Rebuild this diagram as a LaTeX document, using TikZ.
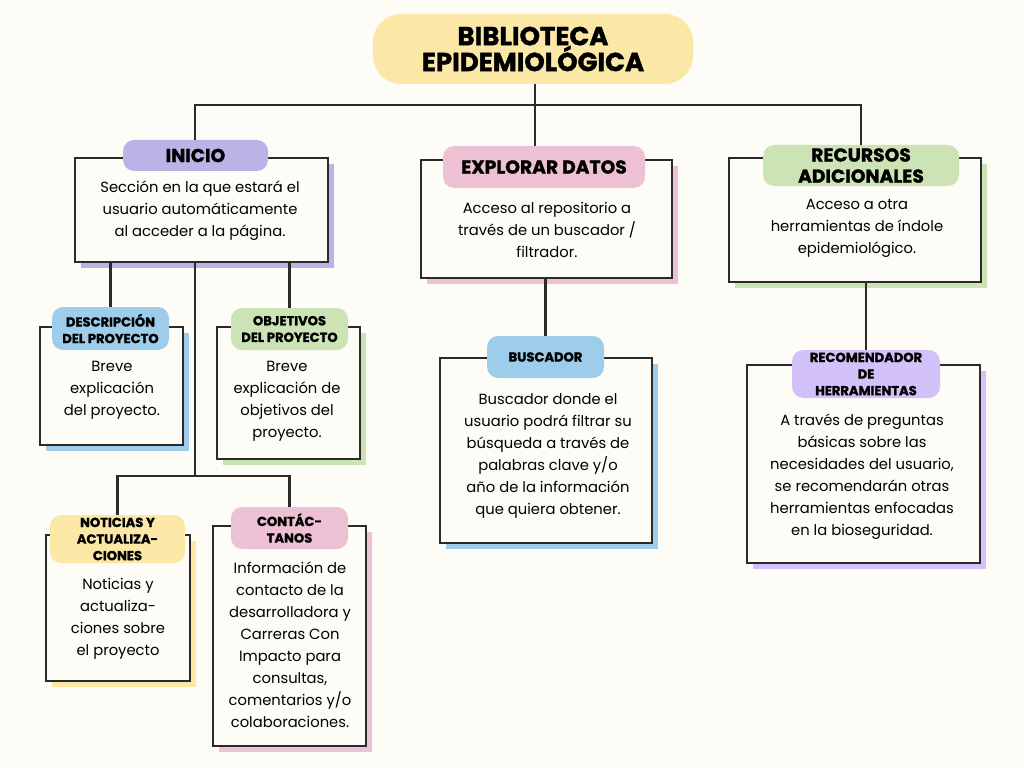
\documentclass[tikz,border=0pt]{standalone}
\usepackage{fontspec}
\setmainfont{Poppins}
\newfontfamily\headfont{Poppins}[BoldFeatures={FakeBold=1.4}]
\usepackage{tikz}
\usetikzlibrary{
    positioning,
    shadows,
    calc
}
\definecolor{paper}{HTML}{FDFCF7}
\definecolor{ink}{HTML}{2A2A2A}
\definecolor{lemon}{HTML}{FBE8A6}
\definecolor{lilac}{HTML}{B9B3E6}
\definecolor{rose}{HTML}{EDC1D3}
\definecolor{sage}{HTML}{CCE3B5}
\definecolor{sky}{HTML}{9DCDEA}
\definecolor{mauve}{HTML}{D3C2FA}
\newcommand{\bodyfont}{\fontsize{10.5}{15.6}\selectfont}
\newcommand{\bigtabfont}{\headfont\fontsize{13.3}{15}\selectfont\bfseries}
\newcommand{\smalltabfont}{\headfont\fontsize{9.3}{11.8}\selectfont\bfseries}
\newcommand{\titlefont}{\headfont\fontsize{18.5}{18.4}\selectfont\bfseries}
\tikzset{
    wh/.style 2 args={minimum width=#1*0.025cm, minimum height=#2*0.025cm},
    card/.style={draw=ink, line width=1.7pt, fill=paper, inner sep=0pt,
        general shadow={fill=#1, shadow xshift=0.15cm, shadow yshift=-0.15cm}},
    tab/.style={fill=#1, rounded corners=8pt, inner sep=0pt, align=center},
    body/.style={align=center, font=\bodyfont, inner sep=0pt},
    wire/.style={draw=ink, line width=2pt}
}

\begin{document}
\begin{tikzpicture}[x=0.025cm, y=-0.025cm]
    \fill[paper] (0,0) rectangle (1024,768);

    \node[tab=lemon, wh={320}{70}, rounded corners=20pt, font=\titlefont] (title) at (533,49) {BIBLIOTECA\\EPIDEMIOLÓGICA};

    \node[card=lilac, wh={253}{104}] (inicio) at (201.5,210) {};
    \node[body] (iniciotxt) at (200,211) {Sección en la que estará el\\usuario automáticamente\\al acceder a la página.};
    \node[tab=lilac, wh={145}{31}, font=\bigtabfont] (iniciolbl) at (195.5,155.5) {INICIO};

    \node[card=sky, wh={143}{118}] (desc) at (111.5,386) {};
    \node[body] (desctxt) at (112,390) {Breve\\explicación\\del proyecto.};
    \node[tab=sky, wh={117}{43}, font=\smalltabfont] (desclbl) at (110.5,328.5) {DESCRIPCIÓN\\DEL PROYECTO};

    \node[card=sage, wh={143}{132}] (obj) at (288.5,393) {};
    \node[body] (objtxt) at (287,401) {Breve\\explicación de\\objetivos del\\proyecto.};
    \node[tab=sage, wh={117}{42}, font=\smalltabfont] (objlbl) at (289.5,329) {OBJETIVOS\\DEL PROYECTO};

    \node[card=lemon, wh={144}{146}] (noticias) at (118,608) {};
    \node[body] (noticiastxt) at (118,619) {Noticias y\\actualiza-\\ciones sobre\\el proyecto};
    \node[tab=lemon, wh={135}{48}, font=\smalltabfont] (noticiaslbl) at (117.5,539) {NOTICIAS Y\\ACTUALIZA-\\CIONES};

    \node[card=rose, wh={153}{220}] (contacto) at (289.5,636) {};
    \node[body] (contactotxt) at (290,645) {Información de\\contacto de la\\desarrolladora y\\Carreras Con\\Impacto para\\consultas,\\comentarios y/o\\colaboraciones.};
    \node[tab=rose, wh={117}{42}, font=\smalltabfont] (contactolbl) at (289.5,528) {CONTÁC-\\TANOS};

    \node[card=rose, wh={251}{118}] (explorar) at (546.5,219) {};
    \node[body] (explorartxt) at (547,230) {Acceso al repositorio a\\través de un buscador /\\filtrador.};
    \node[tab=rose, wh={202}{42}, font=\bigtabfont] (explorarlbl) at (544,167) {EXPLORAR DATOS};

    \node[card=sky, wh={212}{185}] (buscador) at (546,450.5) {};
    \node[body] (buscadortxt) at (548,456) {Buscador donde el\\usuario podrá filtrar su\\búsqueda a través de\\palabras clave y/o\\año de la información\\que quiera obtener.};
    \node[tab=sky, wh={117}{42}, font=\smalltabfont] (buscadorlbl) at (545.5,357) {BUSCADOR};

    \node[card=sage, wh={252}{124}] (recursos) at (855,220) {};
    \node[body] (recursostxt) at (857,228) {Acceso a otra\\herramientas de índole\\epidemiológico.};
    \node[tab=sage, wh={196}{41}, font=\bigtabfont] (recursoslbl) at (861,165.5) {RECURSOS\\ADICIONALES};

    \node[card=mauve, wh={233}{198}] (recomienda) at (863.5,464) {};
    \node[body] (recomiendatxt) at (862,477) {A través de preguntas\\básicas sobre las\\necesidades del usuario,\\se recomendarán otras\\herramientas enfocadas\\en la bioseguridad.};
    \node[tab=mauve, wh={148}{48}, font=\smalltabfont] (recomiendalbl) at (866,374) {RECOMENDADOR\\DE\\HERRAMIENTAS};

    \coordinate (bar) at (535,105);
    \coordinate (kidbar) at (195,476);

    \draw[wire] (title.south -| bar) -- (explorarlbl.north -| bar);
    \draw[wire] (iniciolbl.north -| kidbar) |- (bar) -| (recursoslbl.north);
    \draw[wire] (inicio.south -| desclbl.north) -- (desclbl.north);
    \draw[wire] (inicio.south -| objlbl.north) -- (objlbl.north);
    \draw[wire] (inicio.south -| kidbar) -- (kidbar);
    \draw[wire] (noticiaslbl.north) |- (kidbar) -| (contactolbl.north);
    \draw[wire] (explorar.south -| buscadorlbl.north) -- (buscadorlbl.north);
    \draw[wire] (recursos.south -| recomiendalbl.north) -- (recomiendalbl.north);
\end{tikzpicture}
\end{document}
